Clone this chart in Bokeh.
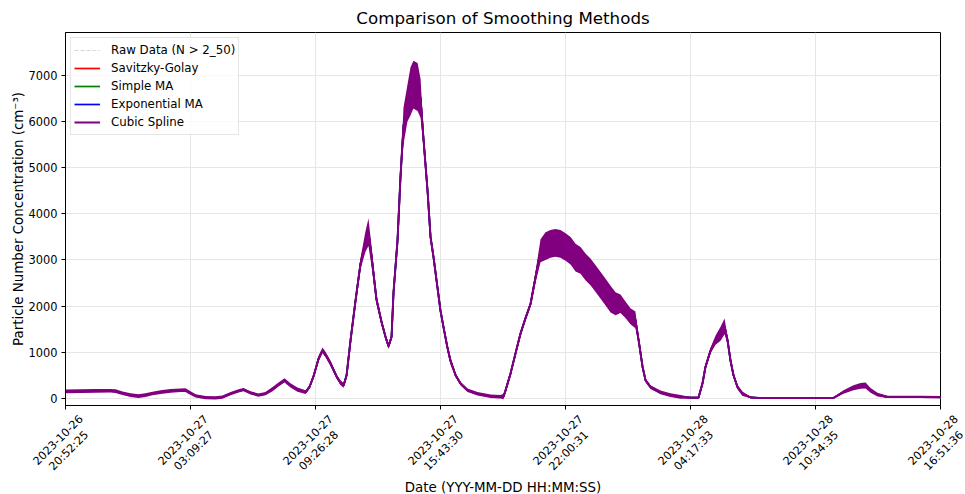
import math
from datetime import datetime, timedelta

from bokeh.plotting import figure
from bokeh.layouts import column
from bokeh.models import (ColumnDataSource, Range1d, FixedTicker,
                          SingleIntervalTicker, CustomJSTickFormatter)
from bokeh.core.properties import value
from bokeh.embed import file_html
from bokeh.resources import INLINE

FONT = "DejaVu Sans"

# Tick labels on the time axis (also the ends of the time range)
tick_labels = [
    "2023-10-26 20:52:25", "2023-10-27 03:09:27", "2023-10-27 09:26:28",
    "2023-10-27 15:43:30", "2023-10-27 22:00:31", "2023-10-28 04:17:33",
    "2023-10-28 10:34:35", "2023-10-28 16:51:36",
]

# Hours since the start of the record
hours = [
    0.00, 0.75, 1.51, 2.26, 2.51, 2.87, 3.27, 3.67, 4.02, 4.37,
    4.78, 5.28, 5.78, 6.03, 6.18, 6.54, 7.04, 7.54, 7.89, 8.30,
    8.70, 8.95, 9.30, 9.70, 10.05, 10.41, 10.71, 11.01, 11.31, 11.66,
    12.07, 12.27, 12.47, 12.72, 12.92, 13.07, 13.32, 13.62, 13.82, 13.98,
    14.13, 14.33, 14.58, 14.83, 15.08, 15.23, 15.38, 15.63, 15.89, 16.09,
    16.24, 16.39, 16.49, 16.69, 16.84, 16.99, 17.19, 17.34, 17.49, 17.70,
    17.85, 18.00, 18.20, 18.35, 18.50, 18.70, 18.85, 19.00, 19.20, 19.35,
    19.61, 19.86, 20.21, 20.71, 21.37, 21.87, 22.02, 22.12, 22.37, 22.62,
    22.87, 23.12, 23.38, 23.63, 23.88, 24.13, 24.38, 24.63, 24.88, 25.14,
    25.39, 25.64, 25.89, 26.14, 26.39, 26.64, 26.90, 27.15, 27.40, 27.65,
    27.90, 28.15, 28.40, 28.65, 28.81, 29.01, 29.16, 29.41, 29.91, 30.41,
    30.92, 31.42, 31.82, 32.02, 32.17, 32.43, 32.68, 32.93, 33.13, 33.28,
    33.43, 33.58, 33.78, 34.03, 34.44, 34.94, 36.95, 38.61, 39.11, 39.61,
    39.97, 40.22, 40.47, 40.82, 41.32, 41.98, 42.98, 43.99,
]

# Smoothed particle number concentration (cm^-3)
conc = [
    150, 155, 162, 165, 155, 110, 70, 50, 70, 105,
    135, 160, 175, 180, 140, 55, 15, 8, 28, 100,
    160, 190, 120, 72, 100, 200, 300, 390, 280, 190,
    135, 250, 480, 860, 1040, 950, 760, 480, 340, 280,
    500, 1260, 2120, 2920, 3400, 3600, 3100, 2150, 1650, 1330,
    1130, 1330, 2300, 3420, 4800, 5900, 6400, 6650, 6800, 6750,
    6500, 5600, 4500, 3500, 3060, 2400, 1900, 1550, 1100, 820,
    500, 320, 175, 100, 45, 35, 40, 170, 535, 970,
    1400, 1730, 2050, 2630, 3200, 3300, 3350, 3370, 3350, 3280,
    3200, 3050, 2990, 2850, 2740, 2600, 2450, 2300, 2150, 2050,
    2050, 1920, 1780, 1700, 1260, 680, 390, 245, 130, 70,
    30, 15, 15, 320, 680, 1040, 1260, 1400, 1560, 1260,
    820, 500, 245, 100, 20, 8, 5, 10, 137, 230,
    270, 280, 173, 80, 30, 30, 30, 25,
]

# Half-width of the high-frequency scatter around the smoothed curve
spread = [
    40, 40, 40, 40, 40, 40, 40, 40, 40, 40,
    40, 40, 40, 40, 40, 35, 35, 35, 35, 35,
    35, 35, 35, 35, 35, 45, 45, 45, 45, 45,
    40, 40, 40, 60, 60, 60, 60, 50, 50, 50,
    50, 50, 80, 120, 220, 300, 220, 100, 60, 60,
    60, 60, 80, 80, 80, 400, 400, 520, 520, 520,
    420, 150, 80, 80, 80, 80, 80, 80, 80, 80,
    40, 40, 40, 40, 40, 40, 60, 60, 60, 60,
    60, 60, 60, 120, 250, 300, 300, 300, 300, 300,
    300, 300, 290, 290, 290, 290, 290, 290, 290, 250,
    200, 180, 175, 180, 80, 40, 40, 40, 40, 40,
    40, 15, 15, 60, 60, 60, 100, 150, 170, 80,
    50, 50, 50, 50, 12, 12, 12, 12, 40, 55,
    60, 65, 50, 40, 25, 25, 25, 25,
]

FMT = "%Y-%m-%d %H:%M:%S"
tick_times = [datetime.strptime(s, FMT) for s in tick_labels]
start, end = tick_times[0], tick_times[-1]
times = [start + timedelta(hours=h) for h in hours]
lower = [c - s for c, s in zip(conc, spread)]
upper = [c + s for c, s in zip(conc, spread)]

src = ColumnDataSource(dict(t=times, y=conc, lo=lower, hi=upper))

epoch = datetime(1970, 1, 1)
tick_ms = [(t - epoch).total_seconds() * 1000.0 for t in tick_times]

W = 965
TOP_H, BOTTOM_H = 410, 84
BORDER_L, BORDER_R = 65, 25
FRAME_W = W - BORDER_L - BORDER_R

# ---- main chart ---------------------------------------------------------
p = figure(
    width=W, height=TOP_H,
    x_axis_type="datetime",
    x_range=Range1d(start, end),
    y_range=Range1d(-155, 7930),
    title="Comparison of Smoothing Methods",
    output_backend="svg", toolbar_location=None,
    min_border_left=BORDER_L, min_border_right=BORDER_R,
    min_border_top=32, min_border_bottom=5,
)
p.frame_align = False

p.background_fill_color = "white"
p.border_fill_color = "white"
p.outline_line_color = "black"
p.outline_line_width = 1

p.title.text_font = FONT
p.title.text_font_size = "16.7px"
p.title.text_font_style = "normal"
p.title.align = "center"
p.title.text_color = "black"

for g in (p.xgrid, p.ygrid):
    g.grid_line_color = "#e6e6e6"
    g.grid_line_width = 1

# x: tick marks only; the rotated date labels sit in the strip below
p.xaxis.ticker = FixedTicker(ticks=tick_ms)
p.xaxis.formatter = CustomJSTickFormatter(code="return '';")
p.xaxis.major_label_standoff = 0
p.yaxis.ticker = SingleIntervalTicker(interval=1000)
p.yaxis.axis_label = "Particle Number Concentration (cm\u207b\u00b3)"
p.yaxis.axis_label_standoff = 0
p.yaxis.major_label_standoff = 4

for ax in (p.xaxis, p.yaxis):
    ax.axis_label_text_font = FONT
    ax.axis_label_text_font_size = "13.4px"
    ax.axis_label_text_font_style = "normal"
    ax.axis_label_text_color = "black"
    ax.major_label_text_font = FONT
    ax.major_label_text_font_size = "11.4px"
    ax.major_label_text_color = "black"
    ax.axis_line_color = "black"
    ax.major_tick_line_color = "black"
    ax.major_tick_out = 4
    ax.major_tick_in = 0
    ax.minor_tick_line_color = None

# Series (all share the same smoothed trace; the spline is drawn last)
p.line("t", "y", source=src, line_color="#bbbbbb", line_alpha=0.6,
       line_dash="4 2", line_width=1, legend_label="Raw Data (N > 2_50)")
p.line("t", "y", source=src, line_color="red", line_width=1.7,
       legend_label="Savitzky-Golay")
p.line("t", "y", source=src, line_color="green", line_width=1.7,
       legend_label="Simple MA")
p.line("t", "y", source=src, line_color="blue", line_width=1.7,
       legend_label="Exponential MA")
p.varea(x="t", y1="lo", y2="hi", source=src, fill_color="purple")
p.line("t", "y", source=src, line_color="purple", line_width=2,
       legend_label="Cubic Spline")

lg = p.legend[0]
lg.location = "top_left"
lg.label_text_font = FONT
lg.label_text_font_size = "11.8px"
lg.label_text_color = "black"
lg.glyph_width = 26
lg.glyph_height = 18
lg.label_height = 18
lg.label_standoff = 11
lg.spacing = 0
lg.padding = 3
lg.margin = 5
lg.border_line_color = "#cccccc"
lg.border_line_width = 1
lg.background_fill_alpha = 0.8

# ---- strip with the rotated date labels and the x-axis title -------------
# Same time scale as the chart, but spanning the full page width so that
# the labels at both ends are not clipped.
span = end - start
strip_range = Range1d(start - span * (BORDER_L / FRAME_W),
                      end + span * (BORDER_R / FRAME_W))

strip = figure(
    width=W, height=BOTTOM_H,
    x_axis_type="datetime",
    x_range=strip_range,
    y_range=Range1d(0, BOTTOM_H),
    x_axis_location=None, y_axis_location=None,
    output_backend="svg", toolbar_location=None,
    min_border=0, min_border_left=0, min_border_right=0,
    min_border_top=0, min_border_bottom=0,
)
strip.frame_align = False
strip.outline_line_color = None
strip.grid.grid_line_color = None
strip.background_fill_color = "white"
strip.border_fill_color = "white"

lab_src = ColumnDataSource(dict(
    t=tick_times,
    y=[BOTTOM_H - 35] * len(tick_times),
    txt=[s.replace(" ", "\n") for s in tick_labels],
))
strip.text(
    x="t", y="y", text="txt", source=lab_src,
    angle=math.pi / 4, text_align="center", text_baseline="middle",
    x_offset=-2,
    text_font=value(FONT), text_font_size="11.2px", text_color="black",
    text_line_height=1.15,
)
strip.text(
    x=[start + span / 2], y=[7],
    text=["Date (YYY-MM-DD HH:MM:SS)"],
    text_align="center", text_baseline="middle",
    text_font=value(FONT), text_font_size="13.4px", text_color="black",
)

layout = column(p, strip, spacing=0)

open("out.html", "w").write(file_html(layout, INLINE))
